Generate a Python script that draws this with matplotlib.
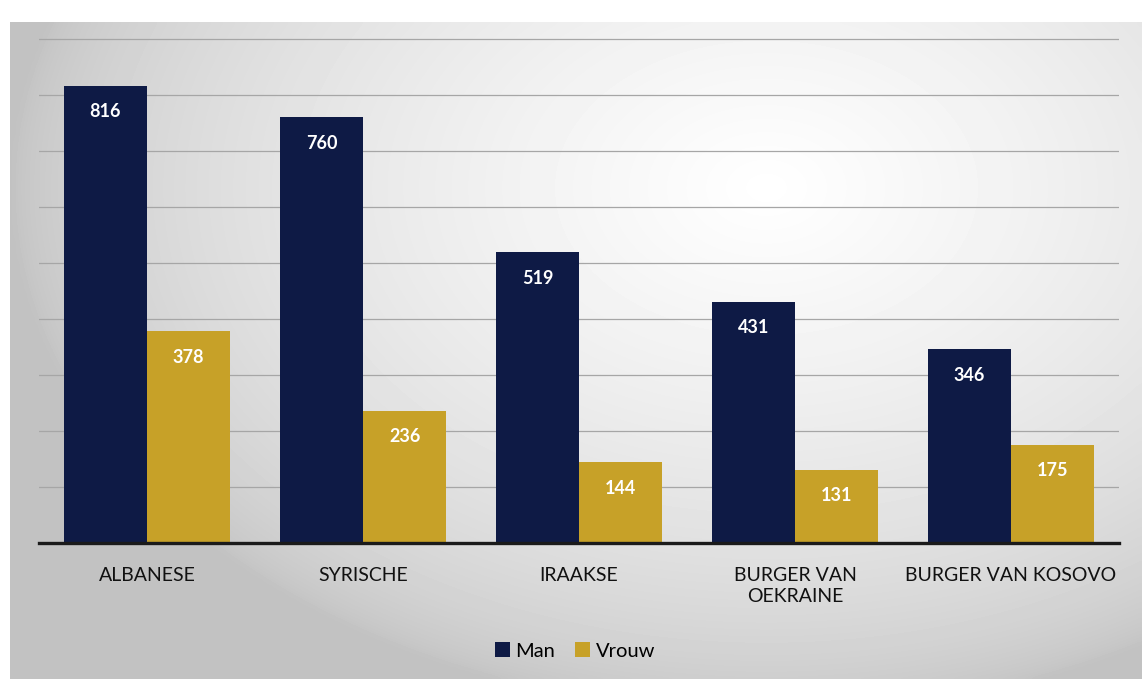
import numpy as np
import matplotlib.pyplot as plt

# data
categories = ['ALBANESE', 'SYRISCHE', 'IRAAKSE', 'BURGER VAN\nOEKRAINE', 'BURGER VAN KOSOVO']
man = [816, 760, 519, 431, 346]
vrouw = [378, 236, 144, 131, 175]

navy = '#0e1a45'
gold = '#c7a128'

plt.rcParams['font.family'] = ['Lato', 'DejaVu Sans']

W, H = 1142, 679
fig = plt.figure(figsize=(W / 100, H / 100), dpi=100)
fig.patch.set_facecolor('white')

# grey panel with a soft white glow, behind the chart
bg = fig.add_axes([10 / W, 0, 1 - 10 / W, 1 - 22 / H])
yy, xx = np.mgrid[0:200, 0:300]
cx, cy = 200, 50
d = np.sqrt(((xx - cx) / 200.0) ** 2 + ((yy - cy) / 160.0) ** 2)
shade = 0.76 + 0.24 * np.clip(1 - d, 0, 1) ** 0.6
bg.imshow(np.clip(shade, 0, 1), cmap='gray', vmin=0, vmax=1, aspect='auto',
          interpolation='bicubic')
bg.set_axis_off()

# chart area: x from 39 to 1119 px, y baseline at 543 px, top at 22 px
ax = fig.add_axes([39 / W, (H - 543) / H, 1080 / W, (543 - 22) / H])
ax.set_facecolor('none')

x = np.arange(len(categories))
w = 0.385
b1 = ax.bar(x - w / 2, man, w, color=navy, label='Man', zorder=3)
b2 = ax.bar(x + w / 2, vrouw, w, color=gold, label='Vrouw', zorder=3)

for bars in (b1, b2):
    for rect in bars:
        v = rect.get_height()
        ax.annotate(f'{v}', (rect.get_x() + rect.get_width() / 2, v),
                    xytext=(0, -26), textcoords='offset pixels',
                    ha='center', va='center', color='white', fontsize=13,
                    fontweight='bold', zorder=4)

ax.set_xlim(-0.5, len(categories) - 0.5)
ax.set_ylim(0, 930)
ax.set_yticks(np.arange(100, 1000, 100))
ax.yaxis.grid(True, color='#a6a6a6', linewidth=0.9, zorder=0)
ax.tick_params(axis='y', left=False, labelleft=False)
ax.tick_params(axis='x', bottom=False, labelsize=14, pad=14, colors='#111111')
ax.set_xticks(x)
ax.set_xticklabels(categories, linespacing=1.25, va='top')
for s in ['top', 'right', 'left']:
    ax.spines[s].set_visible(False)
ax.spines['bottom'].set_color('#1a1a1a')
ax.spines['bottom'].set_linewidth(2.4)
ax.spines['bottom'].set_zorder(5)

leg = fig.legend(loc='center', bbox_to_anchor=(575 / W, (H - 651) / H), ncol=2,
                 frameon=False, fontsize=14.5, handlelength=0.75, handleheight=0.75,
                 handletextpad=0.25, columnspacing=1.0)

fig.savefig('out.png', dpi=100)
